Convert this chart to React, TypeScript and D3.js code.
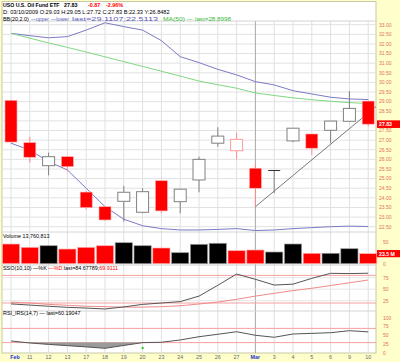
import React from 'react';
import * as d3 from 'd3';

const dates = ['Feb', '11', '12', '13', '17', '18', '19', '20', '23', '24', '25', '26', '27', 'Mar', '3', '4', '5', '6', '9', '10'];
const opens = [29.07, 26.87, 25.67, 26.14, 24.30, 23.54, 23.82, 23.25, 24.89, 23.80, 24.93, 26.84, 26.45, 25.54, 25.40, 26.96, 27.32, 27.51, 27.98, 29.03];
const highs = [29.10, 27.18, 26.35, 26.18, 24.35, 23.56, 24.62, 24.50, 24.90, 24.47, 26.14, 27.67, 27.39, 25.76, 25.43, 27.63, 27.33, 28.00, 29.55, 29.05];
const lows = [26.85, 25.83, 25.17, 25.36, 23.40, 22.80, 22.76, 23.20, 23.20, 23.20, 24.29, 26.66, 26.00, 23.54, 24.24, 26.90, 26.23, 26.84, 27.95, 27.72];
const closes = [26.90, 26.11, 26.14, 25.62, 23.49, 22.85, 24.29, 24.32, 23.32, 24.45, 26.00, 27.21, 27.04, 24.50, 25.42, 27.62, 26.58, 27.99, 28.65, 27.83];
const volumes = [46, 38.3, 42, 34.3, 38.3, 42, 49, 42, 36.7, 25.7, 45.3, 47.7, 30.4, 32, 27.3, 46, 24.3, 24.3, 35, 23.5];
const bbUpper = [32.55, 32.43, 32.32, 32.38, 32.72, 33.10, 32.90, 32.72, 32.17, 31.34, 31.03, 30.68, 30.39, 30.04, 29.87, 29.57, 29.40, 29.23, 29.14, 29.11];
const bbLower = [26.84, 26.49, 25.88, 25.45, 24.50, 23.54, 22.89, 22.55, 22.40, 22.33, 22.33, 22.36, 22.40, 22.30, 22.33, 22.40, 22.45, 22.50, 22.53, 22.51];
const ma50 = [32.55, 32.30, 32.05, 31.82, 31.58, 31.33, 31.08, 30.83, 30.58, 30.33, 30.07, 29.88, 29.70, 29.45, 29.32, 29.20, 29.10, 29.02, 28.95, 28.90];
const ssoK = [18, 15.5, 13, 10.5, 9, 7, 11.5, 17, 20, 23, 35, 58.5, 83, 71.5, 59, 61, 73.6, 84.5, 84, 84.68];
const ssoD = [22, 20, 17, 15, 13, 12, 11, 11, 12, 14, 17.8, 22, 28, 35, 41, 47, 52, 58, 64, 69.91];
const rsi = [34.6, 29, 25, 21.5, 18, 14, 22, 30, 31, 37.4, 46.6, 53.4, 60.7, 50.6, 45, 54.2, 56, 57.9, 63.5, 60.19];
const trendIdx = [13, 19.42];
const trendVal = [23.54, 28.75];
const priceTicks = d3.range(22.5, 33.01, 0.5);
const ssoTicks = [75, 50, 25];
const ssoLevels = [80, 20];
const rsiTicks = [100, 75, 50, 25, 0];
const rsiLevels = [70, 30];
const volTicks = [50, 0];

const FONT = "'Liberation Sans', Arial, sans-serif";
const RED = '#ff0000';
const AXIS = '#e0705e';

export default function App() {
  const n = dates.length;
  const idx = d3.range(n);
  const x = d3.scaleLinear().domain([0, n - 1]).range([11, 368.2]);
  const yP = d3.scaleLinear().domain([22.5, 33]).range([226.7, 24.7]);
  const yV = d3.scaleLinear().domain([0, 50]).range([263.7, 242.3]);
  const yS = d3.scaleLinear().domain([0, 100]).range([312.2, 266.2]);
  const yR = d3.scaleLinear().domain([0, 100]).range([353.3, 317.7]);

  const lineP = (arr: number[]) => d3.line<number>().x((_, i) => x(i)).y((v) => yP(v))(arr) || '';
  const lineS = (arr: number[]) => d3.line<number>().x((_, i) => x(i)).y((v) => yS(v))(arr) || '';
  const rsiLine = d3.line<number>().x((_, i) => x(i)).y((v) => yR(v))(rsi) || '';
  const rsiArea = d3.area<number>().x((_, i) => x(i)).y0(yR(30)).y1((v) => yR(Math.min(v, 30)))(rsi) || '';
  const trend = d3.line<number>().x((v) => x(v)).y((_, i) => yP(trendVal[i]))(trendIdx) || '';

  const bodyW = 12;
  const barW = 17.2;
  const last = closes[n - 1];
  const lastVol = volumes[n - 1];

  return (
    <svg width={400} height={362} style={{ position: 'absolute', left: 0, top: 0 }} fontFamily={FONT}>
      <defs>
        <clipPath id="pclip"><rect x={2} y={21} width={374} height={211} /></clipPath>
      </defs>
      <rect x={0} y={0} width={400} height={362} fill="#ffffcc" />
      <rect x={2} y={1.5} width={374} height={351.5} fill="#ffffff" stroke="#c8c8a8" strokeWidth={1} />

      {priceTicks.map((t) => (
        <line key={'pg' + t} x1={2} x2={376} y1={yP(t)} y2={yP(t)} stroke="#e2e2e2" strokeWidth={1} />
      ))}
      {idx.map((i) => (
        <line key={'vg' + i} x1={x(i)} x2={x(i)} y1={21} y2={353}
          stroke={dates[i] === 'Mar' ? '#a8a8a8' : '#e0e0e0'} strokeWidth={1} />
      ))}
      {[21, 232, 265, 311].map((yy) => (
        <line key={'sep' + yy} x1={2} x2={376} y1={yy} y2={yy} stroke="#d4d4d4" strokeWidth={1} />
      ))}

      <g clipPath="url(#pclip)">
        <path d={lineP(bbUpper)} fill="none" stroke="#7b7bc4" strokeWidth={1} />
        <path d={lineP(bbLower)} fill="none" stroke="#7b7bc4" strokeWidth={1} />
        <path d={lineP(ma50)} fill="none" stroke="#7fd87f" strokeWidth={1} />
        <path d={trend} fill="none" stroke="#555" strokeWidth={0.8} />
        {idx.map((i) => {
          const o = opens[i], c = closes[i], h = highs[i], l = lows[i];
          const prev = i > 0 ? closes[i - 1] : o;
          const down = c < prev;
          const col = down ? RED : '#808080';
          const wick = down ? '#ff8a8a' : '#808080';
          const top = yP(Math.max(o, c));
          const bot = yP(Math.min(o, c));
          const hollow = c > o + 0.03;
          const doji = Math.abs(c - o) <= 0.03;
          return (
            <g key={'c' + i}>
              <line x1={x(i)} x2={x(i)} y1={yP(h)} y2={yP(l)} stroke={wick} strokeWidth={1} />
              {doji ? (
                <line x1={x(i) - bodyW / 2} x2={x(i) + bodyW / 2} y1={top} y2={top} stroke={down ? RED : '#333'} strokeWidth={1} />
              ) : hollow ? (
                <rect x={x(i) - bodyW / 2} y={top} width={bodyW} height={bot - top} fill="#fff" stroke={down ? '#ff9a9a' : col} strokeWidth={1} />
              ) : (
                <rect x={x(i) - bodyW / 2} y={top} width={bodyW} height={bot - top} fill={down ? RED : '#000'} stroke={down ? '#ffb0b0' : '#888'} strokeWidth={0.6} />
              )}
            </g>
          );
        })}
      </g>

      {idx.map((i) => {
        const down = i === 0 ? closes[0] < opens[0] : closes[i] < closes[i - 1];
        return (
          <rect key={'v' + i} x={x(i) - barW / 2} y={yV(volumes[i])} width={barW} height={yV(0) - yV(volumes[i])}
            fill={down ? RED : '#000'} stroke={down ? '#ffb0b0' : '#999'} strokeWidth={0.7} />
        );
      })}

      {ssoTicks.map((t) => (
        <line key={'sg' + t} x1={2} x2={376} y1={yS(t)} y2={yS(t)} stroke="#e6e6e6" strokeWidth={1} />
      ))}
      {ssoLevels.map((t) => (
        <line key={'sl' + t} x1={2} x2={376} y1={yS(t)} y2={yS(t)} stroke="#f5a0a0" strokeWidth={1} />
      ))}
      <path d={lineS(ssoD)} fill="none" stroke="#f08a8a" strokeWidth={1} />
      <path d={lineS(ssoK)} fill="none" stroke="#555" strokeWidth={1} />

      {rsiLevels.map((t) => (
        <line key={'rl' + t} x1={2} x2={376} y1={yR(t)} y2={yR(t)} stroke="#f5a0a0" strokeWidth={1} />
      ))}
      <path d={rsiArea} fill="#9a9a9a" stroke="none" />
      <path d={rsiLine} fill="none" stroke="#555" strokeWidth={1} />
      <rect x={x(7) - 1} y={yR(15) - 1} width={2} height={2} fill="#22cc22" />

      {/* header texts */}
      <text x={3} y={7} fontSize={5.2} fontWeight="bold" fill="#000">USO U.S. Oil Fund ETF</text>
      <text x={64} y={7} fontSize={5.4} fontWeight="bold" fill="#000">27.83</text>
      <text x={88} y={7} fontSize={5.4} fontWeight="bold" fill={RED}>-0.87</text>
      <text x={106} y={7} fontSize={5.4} fontWeight="bold" fill={RED}>-2.96%</text>
      <text x={3} y={14} fontSize={5.6} fill="#000">D: 03/10/2009 O:29.03 H:29.05 L:27.72 C:27.83 B:22.33 Y:26.8482</text>
      <text x={3} y={21} fontSize={5.4} fill="#000">BB(20,2.0)</text>
      <text x={31} y={21} fontSize={5.6} fill="#5a5ab8" textLength={18} lengthAdjust="spacingAndGlyphs">—upper</text>
      <text x={51} y={21} fontSize={5.6} fill="#5a5ab8" textLength={18} lengthAdjust="spacingAndGlyphs">—lower</text>
      <text x={72} y={21} fontSize={5.6} fill="#5a5ab8" textLength={86} lengthAdjust="spacingAndGlyphs">last=29.1107;22.5113</text>
      <text x={163} y={21} fontSize={5.6} fill="#3cb83c" textLength={22} lengthAdjust="spacingAndGlyphs">MA(50)</text>
      <text x={187} y={21} fontSize={5.6} fill="#3cb83c">—</text>
      <text x={195} y={21} fontSize={5.6} fill="#3cb83c" textLength={36} lengthAdjust="spacingAndGlyphs">last=28.8998</text>
      <text x={3} y={238} fontSize={5.4} fill="#000">Volume 13,760,813</text>
      <text x={3} y={270} fontSize={5.4} fill="#000">
        SSO(10,10) —%K <tspan fill={RED}>—%D</tspan> last=84.67789;<tspan fill={RED}>69.9111</tspan>
      </text>
      <text x={3} y={315} fontSize={5.4} fill="#000">RSI_IRS(14,7) — last=60.19047</text>

      {/* right axis labels */}
      {priceTicks.filter((t) => Math.abs(yP(t) - yP(last)) > 6).map((t) => (
        <text key={'pt' + t} x={379} y={yP(t) + 1.8} fontSize={5} fill={AXIS}>{t.toFixed(2)}</text>
      ))}
      <rect x={377} y={yP(last) - 3.8} width={23} height={7.6} fill={RED} />
      <text x={379} y={yP(last) + 1.9} fontSize={5.2} fontWeight="bold" fill="#fff">{last.toFixed(2)}</text>

      {volTicks.map((t) => (
        <text key={'vt' + t} x={383} y={yV(t) + 1.8} fontSize={5} fill={AXIS}>{t}</text>
      ))}
      <rect x={377} y={yV(lastVol) - 3.6} width={23} height={7.2} fill={RED} />
      <text x={379} y={yV(lastVol) + 1.9} fontSize={5.2} fontWeight="bold" fill="#fff">{lastVol} M</text>

      {ssoTicks.map((t) => (
        <text key={'st' + t} x={383} y={yS(t) + 1.8} fontSize={5} fill={AXIS}>{t}</text>
      ))}
      {rsiTicks.map((t) => (
        <text key={'rt' + t} x={383} y={yR(t) + 1.8} fontSize={5} fill={AXIS}>{t}</text>
      ))}

      {idx.map((i) => {
        const month = dates[i] === 'Feb' || dates[i] === 'Mar';
        return (
          <text key={'xl' + i} x={i === 0 ? x(i) + 4 : x(i)} y={359} fontSize={5.4} textAnchor="middle"
            fontWeight={month ? 'bold' : 'normal'} fill={month ? '#2233cc' : '#666'}>{dates[i]}</text>
        );
      })}
    </svg>
  );
}
